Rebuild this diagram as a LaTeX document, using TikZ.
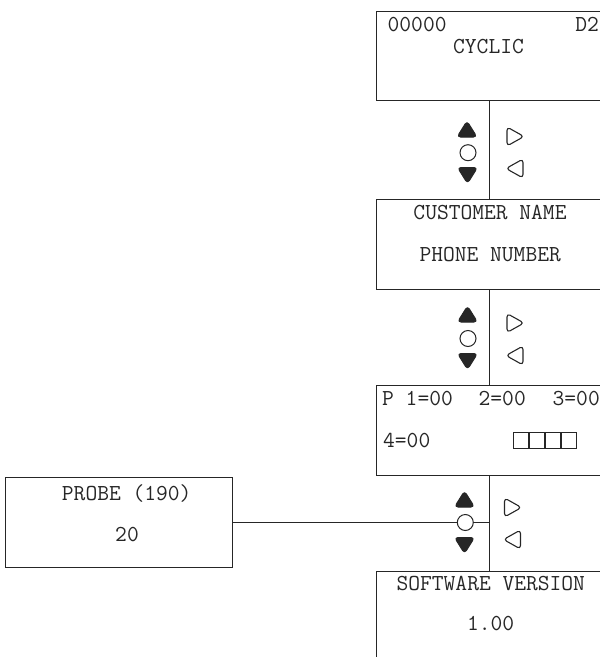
\documentclass[tikz,border=0pt]{standalone}
\usepackage{fontspec}
\definecolor{ink}{gray}{0.15}
\tikzset{
  panel/.style={draw=ink, line width=1pt, rectangle, inner sep=0pt},
  txt/.style={inner sep=0pt, text=ink, font=\ttfamily\fontsize{22.86}{26}\selectfont},
  wire/.style={draw=ink, line width=1pt},
  keyfill/.style={fill=ink, draw=ink, line width=1pt, rounded corners=3.5pt, line join=round},
  keyline/.style={draw=ink, line width=1.1pt, rounded corners=3.5pt, line join=round},
  pics/upkey/.style={code={\path[keyfill] (0,-8.5) -- (10,7.5) -- (-10,7.5) -- cycle;}},
  pics/downkey/.style={code={\path[keyfill] (0,8.5) -- (10,-7.5) -- (-10,-7.5) -- cycle;}},
  pics/rightkey/.style={code={\path[keyline] (-8,-9.5) -- (9,0) -- (-8,9.5) -- cycle;}},
  pics/leftkey/.style={code={\path[keyline] (8,-9.5) -- (-9,0) -- (8,9.5) -- cycle;}},
  okkey/.style={circle, draw=ink, line width=1pt, fill=white, minimum size=16pt, inner sep=0pt}
}
\begin{document}
\begin{tikzpicture}[x=1pt,y=-1pt]
\useasboundingbox (0,0) rectangle (600,657);
\clip (0,0) rectangle (600,657);
% panels
\node[panel, minimum width=227pt, minimum height=89pt] (b1) at (489.5,55.5) {};
\node[panel, minimum width=227pt, minimum height=90pt] (b2) at (489.5,244) {};
\node[panel, minimum width=227pt, minimum height=90pt] (b3) at (489.5,430) {};
\node[panel, minimum width=227pt, minimum height=90pt] (b4) at (489.5,616) {};
\node[panel, minimum width=226.6pt, minimum height=90pt] (probe) at (119,522) {};
% connectors
\draw[wire] (b1.south) -- (b2.north);
\draw[wire] (b2.south) -- (b3.north);
\draw[wire] (b3.south) -- (b4.north);
% texts panel 1
\node[txt, anchor=base west] (t00000) at (387.5,31.3) {00000};
\node[txt, anchor=base east] (td2) at (599,31.3) {D2};
\node[txt, anchor=base] (tcyc) at (488.5,53.3) {CYCLIC};
% panel 2
\node[txt, anchor=base] (tcust) at (490,219.3) {CUSTOMER NAME};
\node[txt, anchor=base] (tphone) at (490.2,261) {PHONE NUMBER};
% panel 3
\node[txt, anchor=base west] (tp1) at (382,405.3) {P 1=00};
\node[txt, anchor=base west] (tp2) at (478.5,405.3) {2=00};
\node[txt, anchor=base west] (tp3) at (552.5,405.3) {3=00};
\node[txt, anchor=base west] (tp4) at (383,447.7) {4=00};
\foreach \i in {0,1,2,3}{
  \draw[draw=ink, line width=1pt] (513.3+16.2*\i,432) rectangle ++(15,16);
}
% panel 4
\node[txt, anchor=base] (tsw) at (490.8,590) {SOFTWARE VERSION};
\node[txt, anchor=base] (tver) at (490.7,630) {1.00};
% probe
\node[txt, anchor=base] (tprobe) at (126.7,500) {PROBE (190)};
\node[txt, anchor=base] (t20) at (127,541.7) {20};
% key group 1
\pic at (467,129.5) {upkey};
\node[okkey] (c1) at (468,152.7) {};
\pic at (467.5,175) {downkey};
\pic at (515,136.5) {rightkey};
\pic at (515,168.5) {leftkey};
% key group 2
\pic at (467.5,314.5) {upkey};
\node[okkey] (c2) at (468,338.5) {};
\pic at (467.5,361) {downkey};
\pic at (515,323) {rightkey};
\pic at (515,355.5) {leftkey};
% key group 3
\pic at (464.5,499.5) {upkey};
\node[okkey] (c3) at (465.3,522.5) {};
\pic at (464.5,545) {downkey};
\pic at (512.5,507.5) {rightkey};
\pic at (512.5,539.5) {leftkey};
% probe link
\draw[wire] (probe.east) -- (probe.east -| c3.west);
\draw[wire] (c3.east) -- (c3.east -| b3.south);
\end{tikzpicture}
\end{document}
